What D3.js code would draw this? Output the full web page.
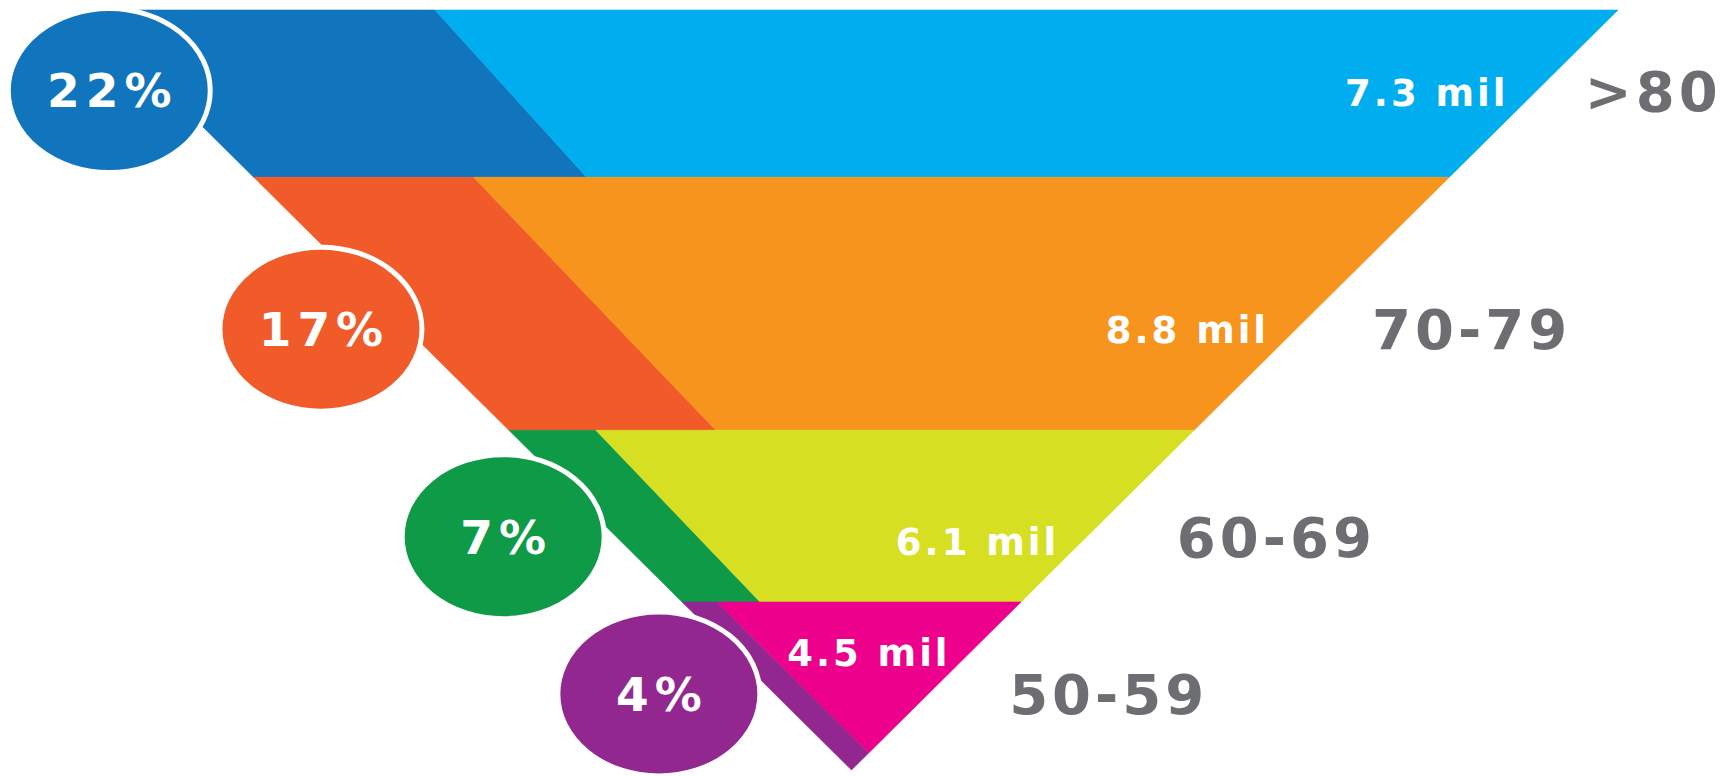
<!DOCTYPE html>
<html>
<head>
<meta charset="utf-8">
<script src="https://cdn.jsdelivr.net/npm/d3@7"></script>
<style>
  html, body { margin: 0; padding: 0; background: #fff; overflow: hidden; }
  svg { display: block; }
  text { font-family: "DejaVu Sans", sans-serif; font-weight: 700; }
</style>
</head>
<body>
<svg id="funnel-svg" width="1729" height="776"></svg>
<script>
// chart values
var ageGroups = [">80", "70-79", "60-69", "50-59"];
var population = [7.3, 8.8, 6.1, 4.5];   // millions
var share = [22, 17, 7, 4];              // percent

// palette
var darkColors = ["#1075bc", "#f15a29", "#0f9a48", "#92278f"];
var lightColors = ["#00aeef", "#f7941d", "#d7df23", "#ec008c"];
var labelGray = "#6d6e71";

// funnel layout, depth 0 = top edge, 1 = tip
var bandEdges = [0, 0.22, 0.553, 0.779, 1];
var darkTop = [350, 220, 87, 35];
var darkBottom = [333, 207, 78, 35];
var rowDepth = [0.106, 0.42, 0.693, 0.9];
var milDepth = [0.109, 0.42, 0.699, 0.846];
var badgeOffset = [57, 86, 113, 116];
var milGap = [29, 30, 26, 22];
var ageGap = [48, 76, 90, 81];

var svg = d3.select('#funnel-svg');

var y = d3.scaleLinear().domain([0, 1]).range([10, 770]);
var halfWidth = d3.scaleLinear().domain([0, 1]).range([766.5, 0]);
var centerX = 851.5;

function leftX(d) { return centerX - halfWidth(d); }
function rightX(d) { return centerX + halfWidth(d); }

var line = d3.line().curve(d3.curveLinearClosed);

var shapes = [];
ageGroups.forEach(function(g, i) {
  var d0 = bandEdges[i], d1 = bandEdges[i + 1];
  var lt = [leftX(d0), y(d0)], rt = [rightX(d0), y(d0)];
  var lb = [leftX(d1), y(d1)], rb = [rightX(d1), y(d1)];
  var st = [leftX(d0) + darkTop[i], y(d0)];
  var dark, light;
  if (leftX(d1) + darkBottom[i] <= rightX(d1)) {
    var sb = [leftX(d1) + darkBottom[i], y(d1)];
    dark = [lt, st, sb, lb];
    light = [st, rt, rb, sb];
  } else {
    // split line runs into the right edge before the tip
    var W = 2 * halfWidth(0);
    var k = (darkBottom[i] - darkTop[i]) / (d1 - d0);
    var dm = (W - darkTop[i] + k * d0) / (W + k);
    var tip = [rightX(dm), y(dm)];
    dark = [lt, st, tip, lb];
    light = [st, rt, tip];
  }
  shapes.push({ pts: dark, color: darkColors[i] });
  shapes.push({ pts: light, color: lightColors[i] });
});

svg.append('g')
  .attr('class', 'bands')
  .selectAll('path')
  .data(shapes)
  .enter().append('path')
  .attr('d', function(s) { return line(s.pts); })
  .attr('fill', function(s) { return s.color; })
  .attr('stroke', function(s) { return s.color; })
  .attr('stroke-width', 0.6);

// percentage badges
var badges = svg.append('g').attr('class', 'badges')
  .selectAll('g')
  .data(share)
  .enter().append('g')
  .attr('transform', function(d, i) {
    var dd = rowDepth[i];
    return 'translate(' + (leftX(dd) - badgeOffset[i]) + ',' + y(dd) + ')';
  });

badges.append('ellipse')
  .attr('rx', 101)
  .attr('ry', 82)
  .attr('fill', function(d, i) { return darkColors[i]; })
  .attr('stroke', '#fff')
  .attr('stroke-width', 5);

badges.append('text')
  .attr('text-anchor', 'middle')
  .attr('dx', 3)
  .attr('dy', '0.36em')
  .attr('font-size', 47)
  .attr('letter-spacing', 6)
  .attr('fill', '#fff')
  .text(function(d) { return d + '%'; });

// population inside each band
svg.append('g').attr('class', 'pop')
  .selectAll('text')
  .data(population)
  .enter().append('text')
  .attr('x', function(d, i) { return rightX(milDepth[i]) - milGap[i] + 3; })
  .attr('y', function(d, i) { return y(milDepth[i]); })
  .attr('text-anchor', 'end')
  .attr('dy', '0.36em')
  .attr('font-size', 37)
  .attr('letter-spacing', 3)
  .attr('fill', '#fff')
  .text(function(d) { return d3.format('.1f')(d) + ' mil'; });

// age group labels to the right
svg.append('g').attr('class', 'ages')
  .selectAll('text')
  .data(ageGroups)
  .enter().append('text')
  .attr('x', function(d, i) { return rightX(rowDepth[i]) + ageGap[i]; })
  .attr('y', function(d, i) { return y(rowDepth[i]); })
  .attr('text-anchor', 'start')
  .attr('dy', '0.36em')
  .attr('font-size', 56)
  .attr('letter-spacing', 4)
  .attr('fill', labelGray)
  .text(function(d) { return d; });
</script>
</body>
</html>
